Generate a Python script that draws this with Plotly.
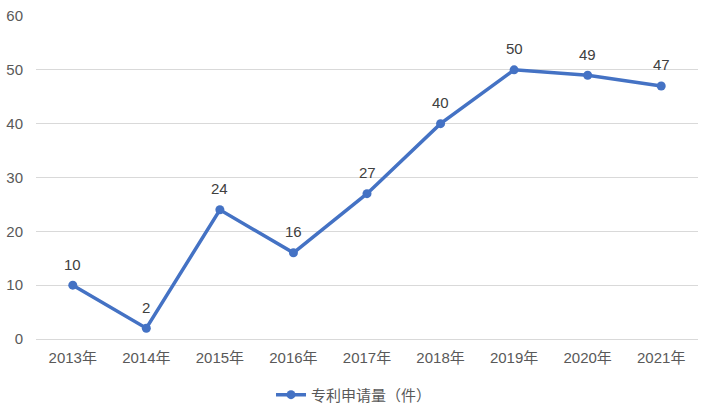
import plotly.graph_objects as go

years = ["2013年", "2014年", "2015年", "2016年", "2017年", "2018年", "2019年", "2020年", "2021年"]
patents = [10, 2, 24, 16, 27, 40, 50, 49, 47]
series_name = "专利申请量（件）"

font_family = "Liberation Sans, Noto Sans CJK SC, sans-serif"
text_color = "#595959"

fig = go.Figure()
fig.add_trace(go.Scatter(
    x=years, y=patents, name=series_name,
    mode="lines+markers",
    line=dict(color="#4472C4", width=3.5),
    marker=dict(color="#4472C4", size=9),
    cliponaxis=False,
))
for yr, v in zip(years, patents):
    fig.add_annotation(x=yr, y=v, text=str(v), showarrow=False, yshift=21,
                       font=dict(size=15, color="#404040", family=font_family))

fig.update_layout(
    width=706, height=408,
    margin=dict(l=36, r=8, t=16, b=69, autoexpand=False),
    paper_bgcolor="white", plot_bgcolor="white",
    font=dict(family=font_family, size=15, color=text_color),
    showlegend=True,
    legend=dict(orientation="h", x=0.355, xanchor="left", y=-0.122, yanchor="top",
                font=dict(size=15, color=text_color)),
)
fig.update_xaxes(
    type="category", range=[-0.5, 8.5], showgrid=False, showline=False, automargin=False,
    ticks="", tickfont=dict(size=15, color=text_color), ticklabelstandoff=8,
)
fig.update_yaxes(
    range=[0, 60], dtick=10, showgrid=True, gridcolor="#d9d9d9", gridwidth=1, automargin=False,
    zeroline=True, zerolinecolor="#d9d9d9", zerolinewidth=1,
    ticks="", tickfont=dict(size=15, color=text_color), ticklabelstandoff=12,
)

fig.write_html("out.html", config={"displayModeBar": False},
               post_script="document.body.style.margin='0';")
